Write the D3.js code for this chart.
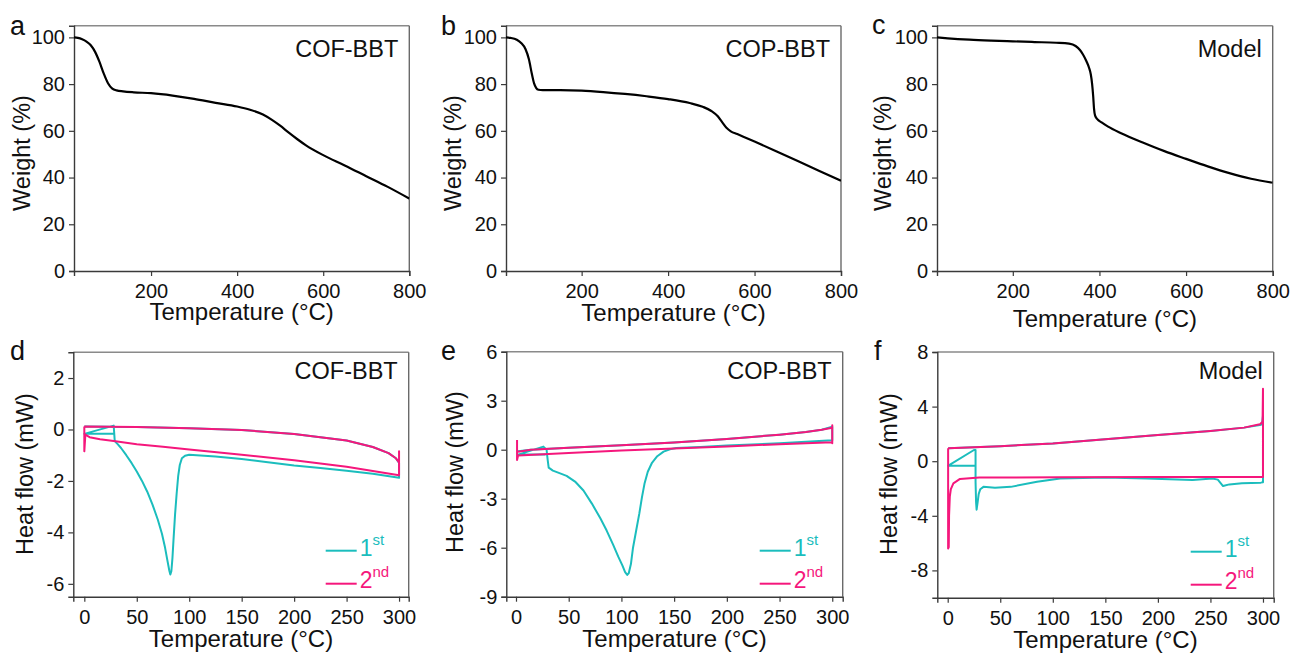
<!DOCTYPE html>
<html><head><meta charset="utf-8">
<script src="https://cdn.jsdelivr.net/npm/d3@7"></script>
<style>html,body{margin:0;padding:0;background:#fff;}svg{display:block;font-family:"Liberation Sans",Arial,sans-serif;}</style>
</head><body>
<svg id="chart" width="1293" height="653"></svg>
<script>
// ---------- DATA ----------
const tgaTicksX = [200, 400, 600, 800];
const tgaTicksY = [0, 20, 40, 60, 80, 100];
const dscTicksX = [0, 50, 100, 150, 200, 250, 300];
const dscTicksY_COF = [-6, -4, -2, 0, 2];
const dscTicksY_COP = [-9, -6, -3, 0, 3, 6];
const dscTicksY_Model = [-8, -4, 0, 4, 8];
const sampleNames = ["COF-BBT", "COP-BBT", "Model"];
const cycleNames = ["1", "2"];
const cycleSup = ["st", "nd"];

const tgaCOF = [[21,100],[30,99.8],[40,99.2],[50,98.2],[60,96.6],[70,93.8],[80,89.6],[90,84.6],[100,80.4],[110,78.1],[120,77.3],[135,76.9],[160,76.5],[200,76.1],[250,75.1],[300,73.7],[350,72.0],[400,70.4],[430,69.0],[460,67.0],[480,64.8],[500,62.2],[520,59.2],[540,56.4],[560,53.8],[600,49.6],[650,45.2],[700,40.6],[750,36.0],[800,31.0]];
const tgaCOP = [[25,100],[35,99.8],[50,99.0],[60,97.6],[70,95.0],[78,90.6],[85,84.2],[90,80.3],[95,78.3],[100,77.6],[110,77.4],[150,77.4],[200,77.2],[250,76.6],[300,75.8],[350,74.8],[400,73.6],[450,71.9],[480,70.3],[500,68.5],[515,66.2],[525,63.7],[535,61.3],[545,59.8],[560,58.6],[600,55.4],[650,51.3],[700,47.1],[750,42.8],[800,38.6]];
const tgaModel = [[25,100],[50,99.6],[100,99.0],[150,98.6],[200,98.3],[250,98.0],[300,97.7],[330,97.3],[345,96.3],[355,94.6],[362,92.7],[370,89.8],[376,87.0],[380,84.2],[383,80.2],[385.5,75.0],[387.5,69.5],[390,66.5],[395,65.0],[405,63.6],[420,61.8],[450,59.0],[500,55.0],[550,51.3],[600,48.0],[650,44.8],[700,41.9],[750,39.5],[800,37.8]];

const dscCOF1 = [[28,-0.17],[0,-0.17],[28,0.15],[29,-0.45],[32,-0.58],[35,-0.72],[40,-1.0],[45,-1.3],[50,-1.63],[55,-2.0],[60,-2.42],[65,-2.92],[70,-3.5],[74,-4.05],[77,-4.6],[79,-5.05],[81,-5.48],[82,-5.64],[83,-5.5],[84,-5.0],[85,-4.3],[86.5,-3.3],[88,-2.5],[89.5,-1.8],[91,-1.38],[93,-1.12],[96,-1.02],[100,-0.98],[125,-1.05],[150,-1.15],[175,-1.27],[200,-1.4],[225,-1.5],[250,-1.6],[275,-1.72],[300,-1.88],[300,-1.3],[297,-1.12],[290,-0.92],[275,-0.68],[250,-0.43],[200,-0.18],[150,-0.02],[100,0.05],[50,0.1],[0,0.12]];
const dscCOF2 = [[0,0.12],[0,-0.85],[1,-0.2],[5,-0.3],[15,-0.38],[28,-0.45],[50,-0.57],[75,-0.67],[100,-0.78],[150,-0.98],[200,-1.2],[250,-1.45],[300,-1.78],[300,-0.85],[300,-1.28],[297,-1.12],[290,-0.92],[275,-0.68],[250,-0.43],[200,-0.18],[150,-0.02],[100,0.05],[50,0.1],[0,0.12]];
const dscCOP1 = [[28,-0.3],[2,-0.3],[26,0.19],[29,0.0],[30,-0.6],[31,-1.1],[35,-1.28],[40,-1.4],[48,-1.6],[56,-1.95],[64,-2.5],[72,-3.3],[80,-4.2],[86,-4.95],[92,-5.8],[97,-6.55],[101,-7.1],[103.5,-7.5],[105.5,-7.67],[107,-7.55],[109,-7.0],[111,-6.0],[114,-4.95],[117,-3.9],[119.5,-2.9],[122,-2.05],[125,-1.35],[129,-0.8],[134,-0.4],[140,-0.12],[146,0.03],[152,0.1],[175,0.16],[200,0.25],[250,0.4],[300,0.58],[300,1.4],[290,1.22],[275,1.08],[250,0.92],[200,0.66],[150,0.44],[100,0.27],[50,0.12],[14,0.0],[2,-0.1]];
const dscCOP2 = [[1,0.6],[1,-0.63],[2,-0.35],[50,-0.2],[100,-0.05],[150,0.08],[200,0.2],[250,0.34],[300,0.46],[300,1.5],[300,0.4],[300,1.35],[290,1.22],[275,1.08],[250,0.92],[200,0.66],[150,0.44],[100,0.27],[50,0.12],[14,0.0],[2,-0.12]];
const dscModel1 = [[26,-0.33],[0.6,-0.33],[25,0.82],[26.5,0.82],[26.5,-1.5],[27,-3.0],[27.5,-3.55],[28.5,-3.0],[29.5,-2.4],[31,-2.05],[34,-1.88],[45,-1.94],[60,-1.88],[85,-1.5],[107,-1.26],[150,-1.2],[189,-1.26],[233,-1.38],[252,-1.27],[257,-1.35],[262,-1.82],[268,-1.7],[280,-1.62],[298,-1.57],[300,-1.55],[300,3.3],[299,2.7],[297,2.65],[282,2.46],[250,2.22],[200,1.92],[150,1.6],[100,1.3],[50,1.1],[0.6,0.94]];
const dscModel2 = [[0.4,0.94],[0.4,-6.4],[1,-6.3],[1.3,-4.0],[2,-2.6],[3,-2.05],[5.4,-1.62],[11.7,-1.3],[30,-1.2],[107,-1.17],[200,-1.15],[300,-1.15],[300,5.3],[299.6,2.9],[297,2.7],[282,2.46],[250,2.22],[200,1.92],[150,1.6],[100,1.3],[50,1.1],[0.4,0.94]];

// ---------- LAYOUT / STYLE ----------
const TEAL = "#1BBDBD", PINK = "#F5177C";
const panels = [
  {letter:"a", l:74, r:409.3, t:25.7, b:271, xd:[21,800], yd:[0,105], xt:tgaTicksX, yt:tgaTicksY, name:sampleNames[0], tga:tgaCOF, ytitle:"Weight (%)", ytx:30, yty:153, xty:320, lx:10, ly:35},
  {letter:"b", l:506, r:841, t:25.7, b:271, xd:[25,800], yd:[0,105], xt:tgaTicksX, yt:tgaTicksY, name:sampleNames[1], tga:tgaCOP, ytitle:"Weight (%)", ytx:461, yty:153, xty:321, lx:441, ly:35},
  {letter:"c", l:937, r:1272.7, t:25.7, b:271, xd:[25,800], yd:[0,105], xt:tgaTicksX, yt:tgaTicksY, name:sampleNames[2], tga:tgaModel, ytitle:"Weight (%)", ytx:891, yty:153, xty:327, lx:872, ly:34},
  {letter:"d", l:73.3, r:408.7, t:352.3, b:596.7, xd:[-10.5,309.2], yd:[-6.5,3], xt:dscTicksX, yt:dscTicksY_COF, name:sampleNames[0], c1:dscCOF1, c2:dscCOF2, ytitle:"Heat flow (mW)", ytx:33, yty:474, xty:647, lx:10, ly:360},
  {letter:"e", l:506.3, r:842.7, t:351.7, b:596.7, xd:[-9.2,309.9], yd:[-9,6], xt:dscTicksX, yt:dscTicksY_COP, name:sampleNames[1], c1:dscCOP1, c2:dscCOP2, ytitle:"Heat flow (mW)", ytx:463, yty:472, xty:647, lx:441, ly:360},
  {letter:"f", l:937.3, r:1273.7, t:352, b:597.7, xd:[-9.9,310.2], yd:[-10,8], xt:dscTicksX, yt:dscTicksY_Model, name:sampleNames[2], c1:dscModel1, c2:dscModel2, ytitle:"Heat flow (mW)", ytx:897, yty:474, xty:648, lx:874, ly:360}
];

const svg = d3.select("#chart");
svg.append("rect").attr("width",1293).attr("height",653).attr("fill","#fff");

panels.forEach(p => {
  const g = svg.append("g");
  const x = d3.scaleLinear().domain(p.xd).range([p.l, p.r]);
  const y = d3.scaleLinear().domain(p.yd).range([p.b, p.t]);

  // top & right frame
  g.append("line").attr("x1",p.l).attr("x2",p.r).attr("y1",p.t).attr("y2",p.t).attr("stroke","#8a8a8a").attr("stroke-width",1.4);
  g.append("line").attr("x1",p.r).attr("x2",p.r).attr("y1",p.t).attr("y2",p.b).attr("stroke","#6a6a6a").attr("stroke-width",1.4);

  // axes
  const fmt = d => String(d);
  const xa = g.append("g").attr("transform",`translate(0,${p.b})`)
    .call(d3.axisBottom(x).tickValues(p.xt).tickFormat(fmt).tickSizeOuter(0).tickSize(5).tickPadding(8));
  const ya = g.append("g").attr("transform",`translate(${p.l},0)`)
    .call(d3.axisLeft(y).tickValues(p.yt).tickFormat(fmt).tickSizeOuter(0).tickSize(5).tickPadding(4));
  [xa, ya].forEach(a => {
    a.select(".domain").attr("stroke","#3a3a3a").attr("stroke-width",1.4);
    a.selectAll(".tick line").attr("stroke","#3a3a3a").attr("stroke-width",1.2);
    a.selectAll(".tick text").attr("fill","#111").style("font-size","20px").style("font-family","'Liberation Sans',Arial,sans-serif");
  });

  // clip
  const cid = "clip-" + p.letter;
  svg.append("clipPath").attr("id",cid).append("rect").attr("x",p.l).attr("y",p.t-8).attr("width",p.r-p.l).attr("height",p.b-p.t+8);

  if (p.tga) {
    const line = d3.line().x(d => x(d[0])).y(d => y(d[1])).curve(d3.curveMonotoneX);
    g.append("path").datum(p.tga).attr("clip-path",`url(#${cid})`)
      .attr("d", line).attr("fill","none").attr("stroke","#000").attr("stroke-width",2.2).attr("stroke-linejoin","round");
  } else {
    const ll = d3.line().x(d => x(d[0])).y(d => y(d[1])).curve(d3.curveLinear);
    g.append("path").datum(p.c1).attr("d", ll).attr("fill","none").attr("stroke",TEAL).attr("stroke-width",2).attr("stroke-linejoin","round");
    g.append("path").datum(p.c2).attr("d", ll).attr("fill","none").attr("stroke",PINK).attr("stroke-width",2).attr("stroke-linejoin","round");
    // legend
    const cols = [TEAL, PINK];
    const rows = [p.b - 46, p.b - 13];
    const baseOff = [5, 4];
    rows.forEach((ry, i) => {
      g.append("line").attr("x1", p.r-83).attr("x2", p.r-52).attr("y1", ry).attr("y2", ry).attr("stroke", cols[i]).attr("stroke-width", 2);
      const t = g.append("text").attr("x", p.r-49).attr("y", ry + baseOff[i]).attr("fill", cols[i]).style("font-size","23px").text(cycleNames[i]);
      t.append("tspan").attr("dy", -11).style("font-size","15px").text(cycleSup[i]);
    });
  }

  // sample name
  g.append("text").attr("x", p.r - 11).attr("y", p.t + (p.tga ? 31 : 27)).attr("text-anchor","end").attr("fill","#111").style("font-size","23.5px").text(p.name);
  // axis titles
  g.append("text").attr("x", (p.l+p.r)/2).attr("y", p.xty).attr("text-anchor","middle").attr("fill","#111").style("font-size","24px").text("Temperature (°C)");
  g.append("text").attr("transform", `translate(${p.ytx},${p.yty}) rotate(-90)`).attr("text-anchor","middle").attr("fill","#111").style("font-size","23.5px").text(p.ytitle);
  // panel letter
  g.append("text").attr("x", p.lx).attr("y", p.ly).attr("fill","#111").style("font-size","27px").text(p.letter);
});
</script>
</body></html>
